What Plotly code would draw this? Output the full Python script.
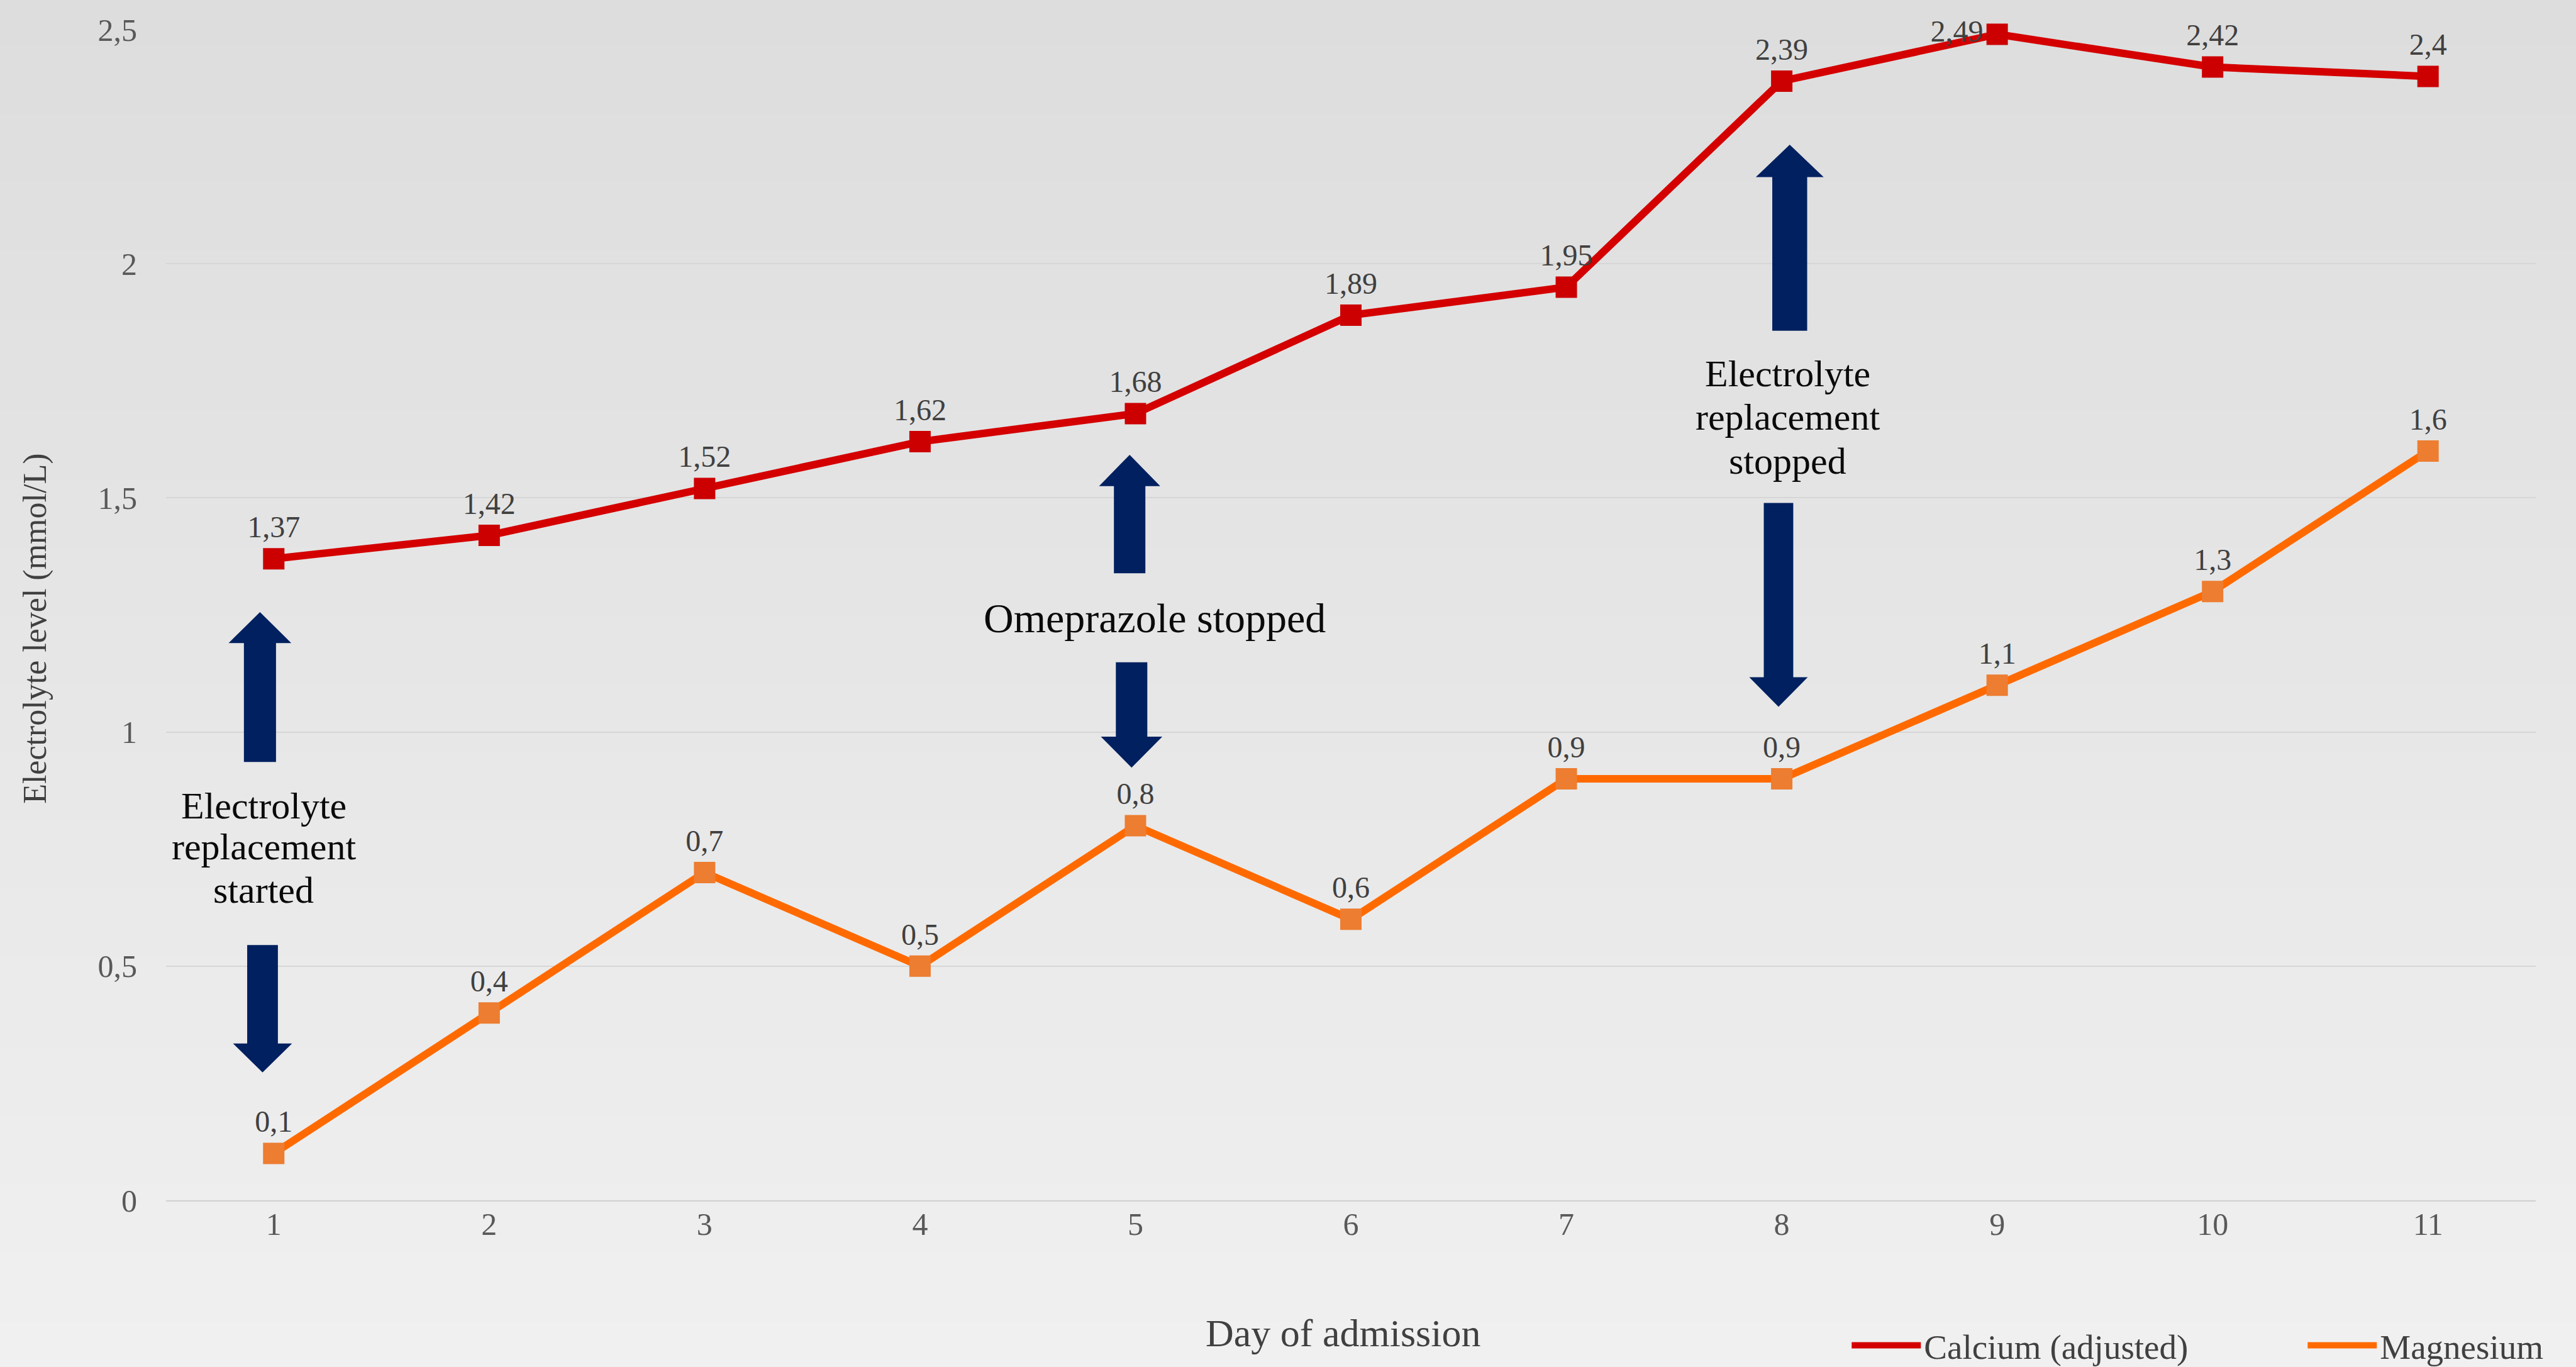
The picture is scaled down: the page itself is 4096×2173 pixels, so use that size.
import plotly.graph_objects as go

# ---------------- data ----------------
days = list(range(1, 12))
calcium = [1.37, 1.42, 1.52, 1.62, 1.68, 1.89, 1.95, 2.39, 2.49, 2.42, 2.4]
magnesium = [0.1, 0.4, 0.7, 0.5, 0.8, 0.6, 0.9, 0.9, 1.1, 1.3, 1.6]
series_names = ["Calcium (adjusted)", "Magnesium"]
y_tick_values = [0, 0.5, 1, 1.5, 2, 2.5]
y_tick_labels = ["0", "0,5", "1", "1,5", "2", "2,5"]
x_tick_labels = [str(d) for d in days]

# ---------------- styles ----------------
FONT = "Liberation Serif, Times New Roman, serif"
RED_LINE, RED_MARK = "#d40000", "#cc0000"
ORG_LINE, ORG_MARK = "#ff6a00", "#ed7d31"
NAVY = "#002060"
W, H = 4096, 2173
ML, MR, MT, MB = 264, 64, 47, 265


def fmt(v):
    return ("%g" % v).replace(".", ",")


ca_text = [fmt(v) for v in calcium]
mg_text = [fmt(v) for v in magnesium]
imax = calcium.index(max(calcium))
ca_pos = ["middle left" if i == imax else "top center" for i in range(len(calcium))]

fig = go.Figure()

fig.add_trace(go.Scatter(
    x=days, y=calcium, mode="lines+markers+text", text=ca_text,
    textposition=ca_pos, textfont=dict(family=FONT, size=48, color="#404040"),
    line=dict(color=RED_LINE, width=12),
    marker=dict(symbol="square", size=34, color=RED_MARK),
    cliponaxis=False, showlegend=False, name=series_names[0]))

fig.add_trace(go.Scatter(
    x=days, y=magnesium, mode="lines+markers+text", text=mg_text,
    textposition="top center", textfont=dict(family=FONT, size=48, color="#404040"),
    line=dict(color=ORG_LINE, width=12),
    marker=dict(symbol="square", size=34, color=ORG_MARK),
    cliponaxis=False, showlegend=False, name=series_names[1]))

# legend entries (line symbols only, as in the original)
for nm, col in zip(series_names, [RED_LINE, ORG_LINE]):
    fig.add_trace(go.Scatter(x=[None], y=[None], mode="lines", name=nm,
                             line=dict(color=col, width=14)))

shapes = []
# background vertical gradient (paper coords)
nb = 60
top_c, bot_c = (0xdd, 0xdd, 0xdd), (0xf0, 0xf0, 0xf0)
y_top = (H - MB) / (H - MT - MB)
y_bot = -MB / (H - MT - MB)
pw = W - ML - MR
for i in range(nb):
    t = i / (nb - 1)
    c = tuple(round(top_c[k] + (bot_c[k] - top_c[k]) * t) for k in range(3))
    y1 = y_top - (y_top - y_bot) * i / nb
    y0 = y_top - (y_top - y_bot) * (i + 1) / nb
    shapes.append(dict(type="rect", xref="paper", yref="paper",
                       x0=-ML / pw - 0.01, x1=1 + MR / pw + 0.01, y0=y0 - 0.002, y1=y1,
                       fillcolor="rgb(%d,%d,%d)" % c, line=dict(width=0), layer="below"))


def block_arrow(cx, tip, head_base, tail, head_hw, shaft_hw):
    p = (f"M {cx},{tip} L {cx + head_hw},{head_base} L {cx + shaft_hw},{head_base} "
         f"L {cx + shaft_hw},{tail} L {cx - shaft_hw},{tail} L {cx - shaft_hw},{head_base} "
         f"L {cx - head_hw},{head_base} Z")
    return dict(type="path", xref="x", yref="y", path=p, fillcolor=NAVY,
                line=dict(width=0), layer="above")


# (center x, tip, head base, tail, head half-width, shaft half-width) in axis units
arrows = [
    (0.936, 1.256, 1.190, 0.936, 0.1455, 0.0745),
    (0.948, 0.273, 0.335, 0.545, 0.137, 0.0713),
    (4.973, 1.592, 1.525, 1.339, 0.142, 0.073),
    (4.982, 0.924, 0.990, 1.149, 0.1426, 0.073),
    (8.037, 2.254, 2.185, 1.857, 0.1575, 0.081),
    (7.985, 1.054, 1.117, 1.489, 0.1357, 0.0684),
]
for a in arrows:
    shapes.append(block_arrow(*a))

annotations = []
note_lines = [
    ("Electrolyte", 0.953, 0.842, 60), ("replacement", 0.953, 0.755, 60), ("started", 0.953, 0.662, 60),
    ("Omeprazole stopped", 5.090, 1.243, 66),
    ("Electrolyte", 8.027, 1.765, 60), ("replacement", 8.027, 1.673, 60), ("stopped", 8.027, 1.579, 60),
]
for txt, x, y, sz in note_lines:
    annotations.append(dict(text=txt, x=x, y=y, xref="x", yref="y", showarrow=False,
                            xanchor="center", yanchor="middle",
                            font=dict(family=FONT, size=sz, color="#0a0a0a")))

# axis titles
annotations.append(dict(text="Day of admission", xref="paper", yref="paper",
                        x=0.4966, y=-0.1134, xanchor="center", yanchor="middle", showarrow=False,
                        font=dict(family=FONT, size=62, color="#404040")))
annotations.append(dict(text="Electrolyte level (mmol/L)", xref="paper", yref="paper",
                        x=-0.0552, y=0.488, xanchor="center", yanchor="middle", showarrow=False,
                        textangle=-90, font=dict(family=FONT, size=52, color="#404040")))

fig.update_layout(
    width=W, height=H,
    margin=dict(l=ML, r=MR, t=MT, b=MB, autoexpand=False),
    paper_bgcolor="#e6e6e6", plot_bgcolor="rgba(0,0,0,0)",
    font=dict(family=FONT, color="#595959"),
    shapes=shapes, annotations=annotations,
    xaxis=dict(range=[0.5, 11.5], tickvals=days, ticktext=x_tick_labels,
               showgrid=False, zeroline=False, showline=True, linecolor="#d0d0d0",
               linewidth=2, ticks="", ticklabelstandoff=-7,
               tickfont=dict(family=FONT, size=50, color="#595959")),
    yaxis=dict(range=[0, 2.5], tickvals=y_tick_values, ticktext=y_tick_labels,
               showgrid=True, gridcolor="#d6d6d6", gridwidth=2, zeroline=False,
               showline=False, ticks="", ticklabelstandoff=45,
               tickfont=dict(family=FONT, size=50, color="#595959")),
    legend=dict(orientation="h", x=0.71, xanchor="left", y=-0.124, yanchor="middle",
                font=dict(family=FONT, size=55, color="#404040"),
                itemwidth=110, entrywidth=600, bgcolor="rgba(0,0,0,0)",
                traceorder="normal"),
    showlegend=True,
)

fig.write_html(
    "out.html",
    config={"displayModeBar": False},
    post_script="document.body.style.margin='0';document.body.style.overflow='hidden';",
)
